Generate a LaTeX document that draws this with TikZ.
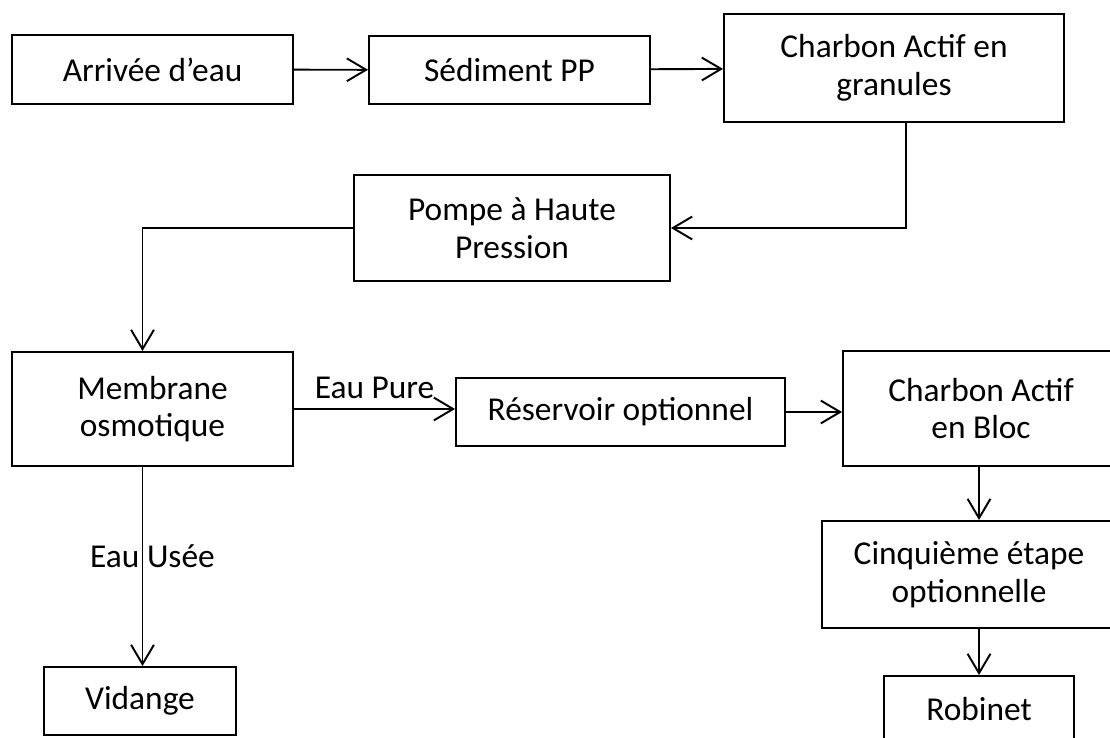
\documentclass[tikz,border=0pt]{standalone}
\usepackage{fontspec}
\setmainfont{Carlito}
\usepackage{tikz}
\usetikzlibrary{arrows.meta}

\tikzset{
  box/.style={draw, line width=1.1pt, align=center, inner sep=2pt},
  flow/.style={line width=1.1pt, -{Straight Barb[length=11pt,width=13pt,line width=1.1pt]}}
}

\begin{document}
\begin{tikzpicture}[font=\fontsize{19}{21.5}\selectfont]
\useasboundingbox (0,0) rectangle (22.2,-14.76);

\node[box, minimum width=5.62cm, minimum height=1.38cm] (arr) at (3.05,-1.39) {Arrivée d’eau};
\node[box, minimum width=5.62cm, minimum height=1.36cm] (sed) at (10.19,-1.40) {Sédiment PP};
\node[box, minimum width=6.80cm, minimum height=2.16cm] (gran) at (17.88,-1.36) {Charbon Actif en\\granules};
\node[box, minimum width=6.32cm, minimum height=2.12cm] (pompe) at (10.24,-4.56) {Pompe à Haute\\Pression};

\node[box, minimum width=5.62cm, minimum height=2.28cm] (memb) at (3.05,-8.18) {Membrane\\osmotique};
\node[box, minimum width=6.58cm, minimum height=1.36cm] (res) at (12.41,-8.24) {Réservoir optionnel};
\node[box, minimum width=5.52cm, minimum height=2.30cm] (bloc) at (19.62,-8.17) {Charbon Actif\\en Bloc};
\node[box, minimum width=5.88cm, minimum height=2.14cm] (cinq) at (19.38,-11.49) {Cinquième étape\\optionnelle};

\node[box, minimum width=3.84cm, minimum height=1.36cm] (vid) at (2.80,-14.02) {Vidange};
\node[box, minimum width=3.80cm, minimum height=1.32cm] (rob) at (19.58,-14.18) {Robinet};

\draw[flow] (arr) -- (sed);
\draw[flow] (sed) -- (gran);
\draw[flow] ([xshift=0.24cm]gran.south) |- (pompe.east);
\draw[flow] (pompe.west) -| ([xshift=-0.2cm]memb.north);
\draw[flow] (memb.east) -- (memb.east -| res.west) node[midway, above, yshift=2pt] {Eau Pure};
\draw[flow] (res) -- (res -| bloc.west);
\draw[flow] ([xshift=-0.2cm]memb.south) -- ([xshift=-0.2cm]memb.south |- vid.north) node[pos=0.45, xshift=0.2cm] {Eau Usée};
\draw[flow] (bloc.south -| rob) -- (rob |- cinq.north);
\draw[flow] (rob |- cinq.south) -- (rob);

\end{tikzpicture}
\end{document}
